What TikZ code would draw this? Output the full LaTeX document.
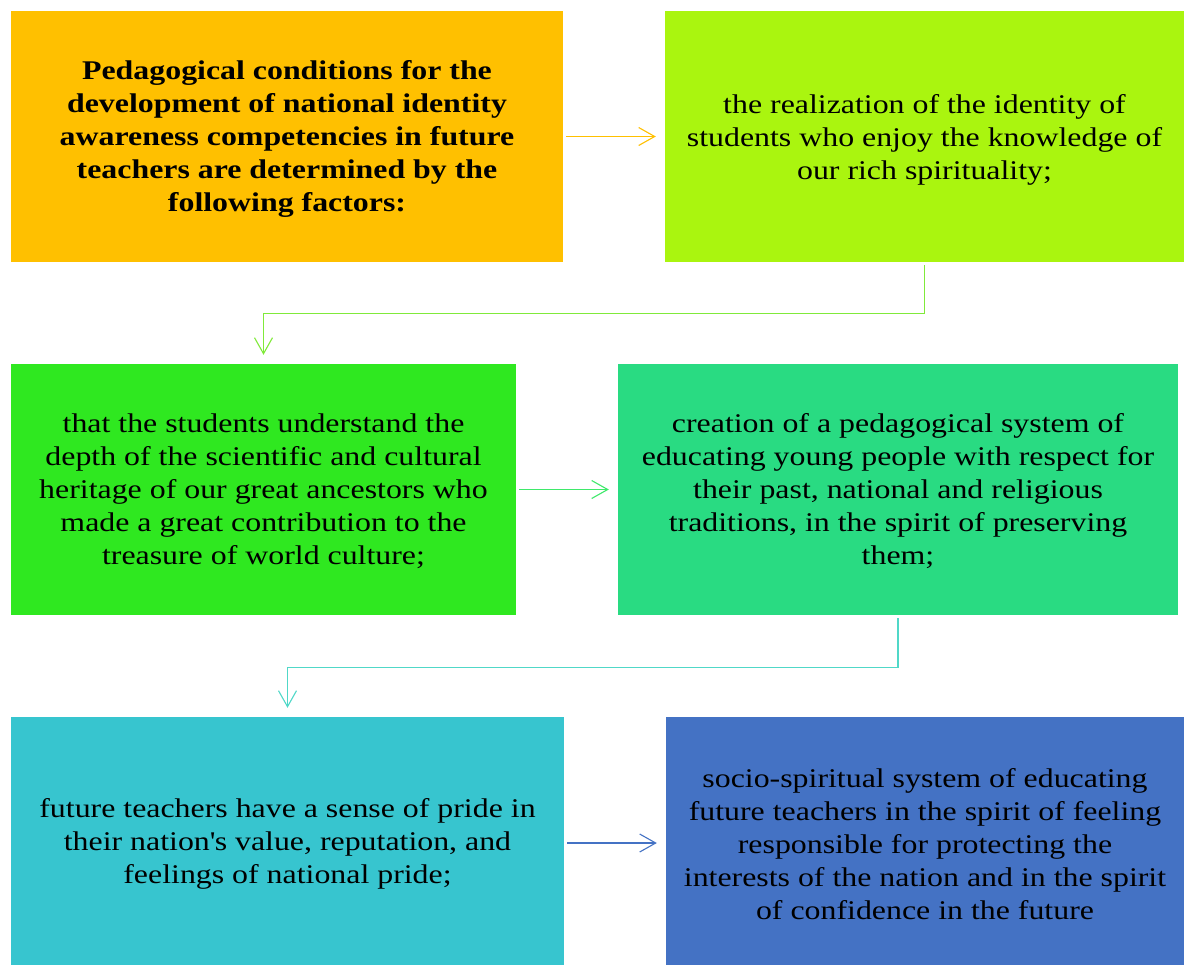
\documentclass[tikz,border=0pt]{standalone}
\usepackage{fontspec}
\setmainfont{Liberation Serif}[FakeStretch=1.18]
\usetikzlibrary{arrows.meta}
\definecolor{cA}{HTML}{FFC000}
\definecolor{cB}{HTML}{AAF50F}
\definecolor{cC}{HTML}{2FE820}
\definecolor{cD}{HTML}{29DB82}
\definecolor{cE}{HTML}{37C5CF}
\definecolor{cF}{HTML}{4472C4}
\definecolor{aB}{HTML}{80EA3A}
\definecolor{aC}{HTML}{3FE96B}
\definecolor{aD}{HTML}{50D8C8}
\tikzset{
  box/.style={rectangle, inner sep=0pt},
  txt/.style={inner sep=0pt, align=center, font=\fontsize{27}{33}\selectfont},
  conn/.style={line width=1.1pt, -{Straight Barb[length=16pt,width=18pt]}, shorten <=3pt, shorten >=9pt}
}
\begin{document}
\begin{tikzpicture}[x=1pt,y=-1pt]
\useasboundingbox (0,0) rectangle (1185,964);
\fill[white] (0,0) rectangle (1185,964);
\node[box, fill=cA, minimum width=552pt, minimum height=251pt] (b1) at (287,136.5) {};
\node[box, fill=cB, minimum width=519pt, minimum height=251pt] (b2) at (924.5,136.5) {};
\node[box, fill=cC, minimum width=505pt, minimum height=251pt] (b3) at (263.5,489.5) {};
\node[box, fill=cD, minimum width=560pt, minimum height=251pt] (b4) at (898,489.5) {};
\node[box, fill=cE, minimum width=553pt, minimum height=252pt] (b5) at (287.5,843) {};
\node[box, fill=cF, minimum width=518pt, minimum height=252pt] (b6) at (925,843) {};
\node[txt, font=\fontsize{27}{33}\selectfont\bfseries] (t1) at ([yshift=-2pt]b1.center)
 {Pedagogical conditions for the\\development of national identity\\awareness competencies in future\\teachers are determined by the\\following factors:};
\node[txt] (t2) at ([yshift=-3pt]b2.center)
 {the realization of the identity of\\students who enjoy the knowledge of\\our rich spirituality;};
\node[txt] (t3) at ([yshift=-2pt]b3.center)
 {that the students understand the\\depth of the scientific and cultural\\heritage of our great ancestors who\\made a great contribution to the\\treasure of world culture;};
\node[txt] (t4) at ([yshift=-2pt]b4.center)
 {creation of a pedagogical system of\\educating young people with respect for\\their past, national and religious\\traditions, in the spirit of preserving\\them;};
\node[txt] (t5) at ([yshift=-1pt]b5.center)
 {future teachers have a sense of pride in\\their nation\textquotesingle s value, reputation, and\\feelings of national pride;};
\node[txt] (t6) at ([yshift=-1pt]b6.center)
 {socio-spiritual system of educating\\future teachers in the spirit of feeling\\responsible for protecting the\\interests of the nation and in the spirit\\of confidence in the future};
\draw[conn, cA] (b1.east) -- (b2.west);
\draw[conn, aB] (b2.south) -- ++(0,51) -| (b3.north);
\draw[conn, aC] (b3.east) -- (b4.west);
\draw[conn, aD] (b4.south) -- ++(0,52) -| (b5.north);
\draw[conn, cF] (b5.east) -- (b6.west);
\end{tikzpicture}
\end{document}
